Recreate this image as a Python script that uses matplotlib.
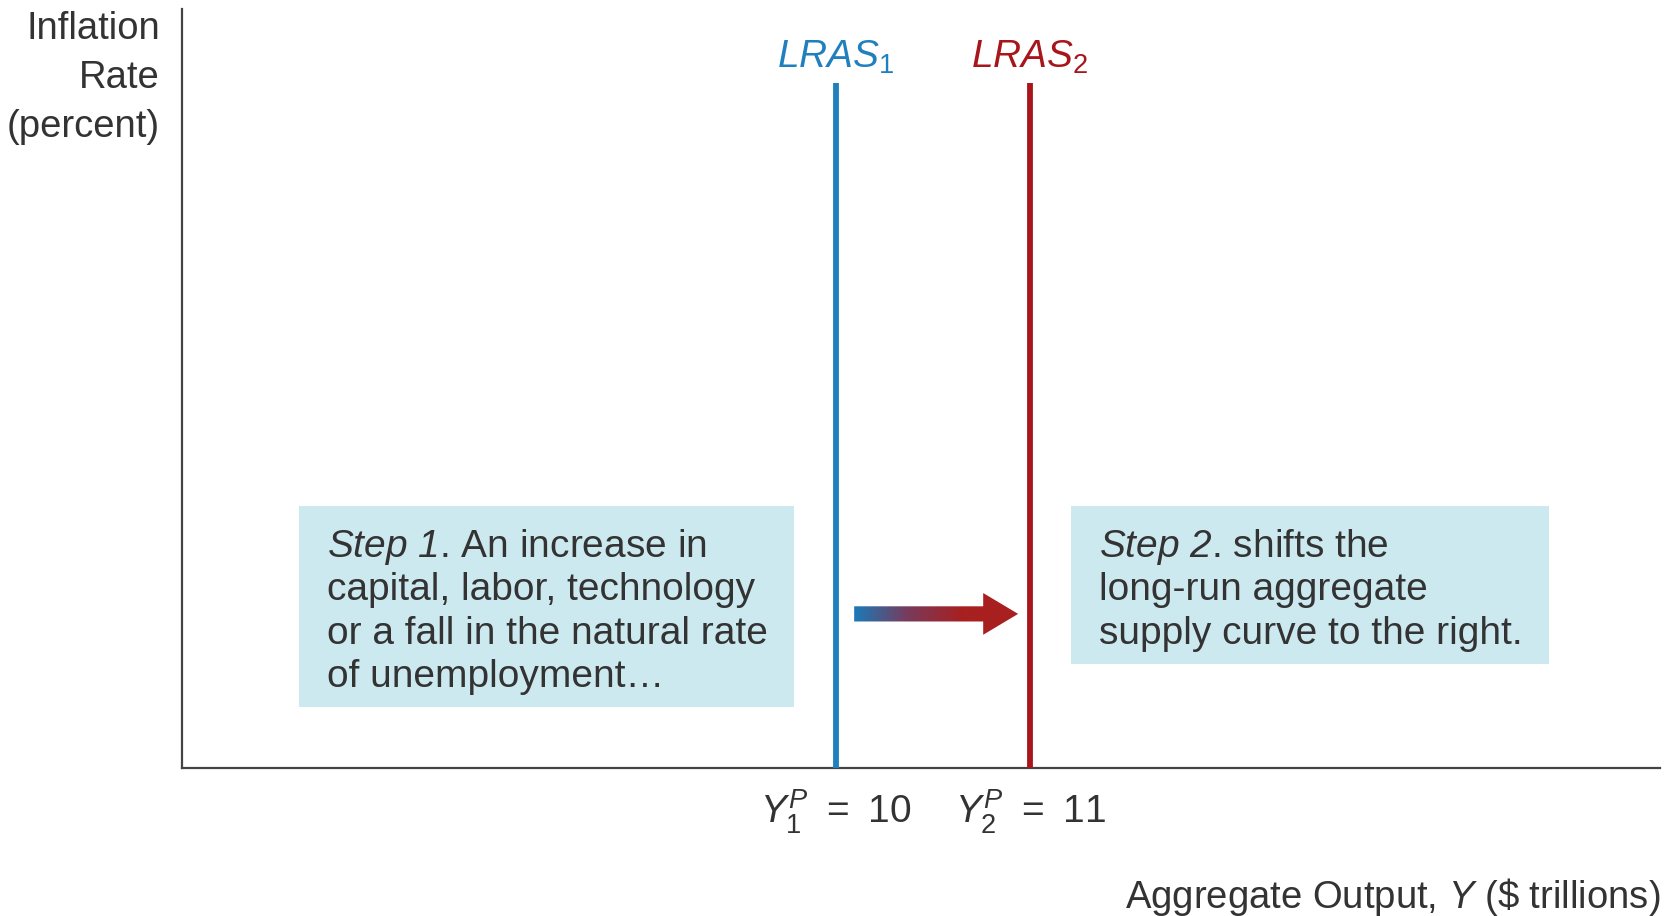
import numpy as np
import matplotlib.pyplot as plt
from matplotlib.patches import Rectangle, FancyArrow
from matplotlib.colors import LinearSegmentedColormap

plt.rcParams['font.family'] = ['Liberation Sans', 'DejaVu Sans']
plt.rcParams['mathtext.fontset'] = 'custom'
plt.rcParams['mathtext.rm'] = 'Liberation Sans'
plt.rcParams['mathtext.it'] = 'Liberation Sans:italic'
plt.rcParams['mathtext.sf'] = 'Liberation Sans:italic'  # italic digits too

# data
lras_x = [10, 11]
lras_top = 9.02
lras_labels = [r'$\mathit{LRAS}_1$', r'$\mathit{LRAS}_2$']
lras_colors = ['#2080bd', '#a8161b']
tick_labels = [r'$Y^{P}_{1}$ ' + '\u2009= \u200910',
               r'$Y^{P}_{2}$ ' + '\u2009= \u200911']
arrow_y = 2.03

box1 = (7.232, 0.80, 9.784, 3.45)
box2 = (11.211, 1.37, 13.675, 3.45)
box1_lines = [r'$\mathsf{Step\ 1}$. An increase in',
              'capital, labor, technology',
              'or a fall in the natural rate',
              'of unemployment\u2026']
box2_lines = [r'$\mathsf{Step\ 2}$. shifts the',
              'long-run aggregate',
              'supply curve to the right.']

txt = '#333333'
fs = 28
line_step = 0.572   # data units between text lines

fig = plt.figure(figsize=(16.72, 9.16), dpi=100)
ax = fig.add_axes([0.1089, 0.1616, 0.884, 0.8286])
ax.set_xlim(6.629, 14.247)
ax.set_ylim(0, 10)
for s in ['top', 'right']:
    ax.spines[s].set_visible(False)
for s in ['left', 'bottom']:
    ax.spines[s].set_color('#444444')
    ax.spines[s].set_linewidth(1.6)
ax.set_xticks([])
ax.set_yticks([])

# boxes and their text
for b, lines in [(box1, box1_lines), (box2, box2_lines)]:
    ax.add_patch(Rectangle((b[0], b[1]), b[2] - b[0], b[3] - b[1],
                           facecolor='#cde9f0', edgecolor='none', zorder=1))
    for i, line in enumerate(lines):
        ax.text(b[0] + 0.145, b[3] - 0.67 - i * line_step, line, fontsize=fs,
                color=txt, va='baseline', ha='left', zorder=3)

# LRAS lines
for x, lab, c, tl in zip(lras_x, lras_labels, lras_colors, tick_labels):
    ax.plot([x, x], [0, lras_top], color=c, lw=4.2, solid_capstyle='butt',
            zorder=4, clip_on=False)
    ax.text(x + 0.0, lras_top + 0.1, lab, color=c, fontsize=fs,
            ha='center', va='bottom')
    ax.text(x, -0.58, tl, color=txt, fontsize=fs, ha='center', va='center')

# gradient arrow
x0 = lras_x[0] + 0.093
x1 = lras_x[1] - 0.062
arr = FancyArrow(x0, arrow_y, x1 - x0, 0, width=0.2, head_width=0.55,
                 head_length=0.18, length_includes_head=True,
                 facecolor='none', edgecolor='none', zorder=5)
ax.add_patch(arr)
cmap = LinearSegmentedColormap.from_list('ar', ['#1a7ab8', '#7a3a5a', '#a8201f', '#a8201f'])
grad = np.linspace(0, 1, 256).reshape(1, -1)
im = ax.imshow(grad, extent=(x0, x1, arrow_y - 0.3, arrow_y + 0.3),
               cmap=cmap, aspect='auto', zorder=5)
im.set_clip_path(arr)

# axis labels
fig.text(160 / 1672, 1 - 11 / 916, 'Inflation\nRate\n(percent)', fontsize=27.5,
         color=txt, ha='right', va='top', linespacing=1.46)
fig.text(1660 / 1672, 1 - 897 / 916,
         r'Aggregate Output, $Y$ (\$ trillions)', fontsize=27.5, color=txt,
         ha='right', va='center')

fig.savefig('out.png', dpi=100)
